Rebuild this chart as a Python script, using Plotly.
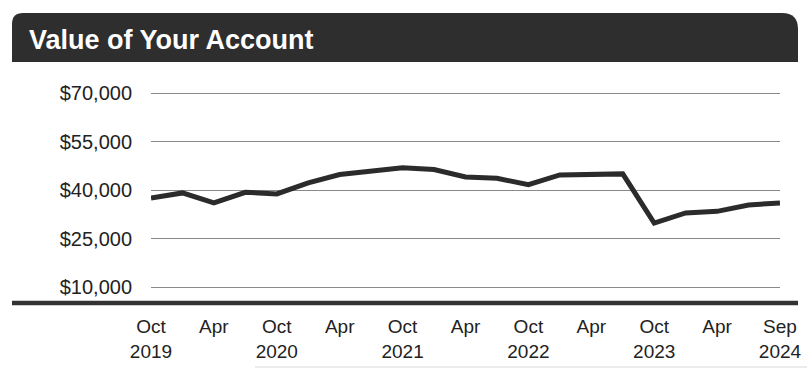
import plotly.graph_objects as go

# ---- data ----
periods = ["Oct 2019", "Jan 2020", "Apr 2020", "Jul 2020", "Oct 2020", "Jan 2021", "Apr 2021",
           "Jul 2021", "Oct 2021", "Jan 2022", "Apr 2022", "Jul 2022", "Oct 2022", "Jan 2023",
           "Apr 2023", "Jul 2023", "Oct 2023", "Jan 2024", "Apr 2024", "Jul 2024", "Sep 2024"]
values = [37650, 39200, 36100, 39400, 38900, 42300, 44870, 45900, 46950, 46400, 44150,
          43700, 41770, 44770, 45080, 45080, 29900, 33000, 33500, 35470, 36100]
tick_labels = ["Oct<br>2019", "Apr", "Oct<br>2020", "Apr", "Oct<br>2021", "Apr",
               "Oct<br>2022", "Apr", "Oct<br>2023", "Apr", "Sep<br>2024"]
y_ticks = [10000, 25000, 40000, 55000, 70000]
y_tick_labels = ["$10,000", "$25,000", "$40,000", "$55,000", "$70,000"]

W, H = 807, 370
L, R, T, B = 151, 27, 77, 67
PW, PH = W - L - R, H - T - B


def px(x):
    return (x - L) / PW


def py(y):
    return (H - B - y) / PH


x_idx = list(range(len(periods)))
tick_pos = x_idx[::2]

fig = go.Figure()
fig.add_trace(go.Scatter(
    x=x_idx, y=values, mode="lines",
    line=dict(color="#2b2b2b", width=5),
    text=periods, hoverinfo="text+y", showlegend=False,
))

# title bar path (pixel -> paper)
x0, x1, y0, y1 = 12, 798, 13, 62
rl, rr = 11, 16
path = (f"M {px(x0)},{py(y1)} L {px(x0)},{py(y0 + rl)} "
        f"Q {px(x0)},{py(y0)} {px(x0 + rl)},{py(y0)} "
        f"L {px(x1 - rr)},{py(y0)} "
        f"Q {px(x1)},{py(y0)} {px(x1)},{py(y0 + rr)} "
        f"L {px(x1)},{py(y1)} Z")

shapes = [
    dict(type="path", xref="paper", yref="paper", path=path,
         fillcolor="#2e2e2e", line=dict(width=0), layer="below"),
    dict(type="line", xref="paper", yref="paper",
         x0=px(12), x1=px(798), y0=py(303), y1=py(303),
         line=dict(color="#333333", width=4.5)),
    dict(type="line", xref="paper", yref="paper",
         x0=px(255), x1=px(807), y0=py(367), y1=py(367),
         line=dict(color="#d8d8d8", width=1)),
]

fig.update_layout(
    width=W, height=H,
    margin=dict(l=L, r=R, t=T, b=B, autoexpand=False),
    paper_bgcolor="white", plot_bgcolor="white",
    font=dict(family="Liberation Sans, Arial, sans-serif", color="#222222"),
    shapes=shapes,
    annotations=[dict(
        text="<b>Value of Your Account</b>", xref="paper", yref="paper",
        x=px(27), y=py(40), xanchor="left", yanchor="middle", showarrow=False,
        font=dict(size=27, color="white", family="Liberation Sans, Arial, sans-serif"),
    )],
    xaxis=dict(
        range=[0, len(periods) - 1], tickvals=tick_pos, ticktext=tick_labels,
        showgrid=False, zeroline=False, showline=False, ticks="",
        tickfont=dict(size=19, color="#222222"), ticklabelstandoff=10,
        automargin=False, fixedrange=True,
    ),
    yaxis=dict(
        range=[5200, 75000], tickvals=y_ticks, ticktext=y_tick_labels,
        showgrid=True, gridcolor="#8a8a8a", gridwidth=1, zeroline=False,
        showline=False, ticks="", tickfont=dict(size=20, color="#222222"),
        ticklabelstandoff=18, automargin=False, fixedrange=True,
    ),
)

fig.write_html("out.html")
